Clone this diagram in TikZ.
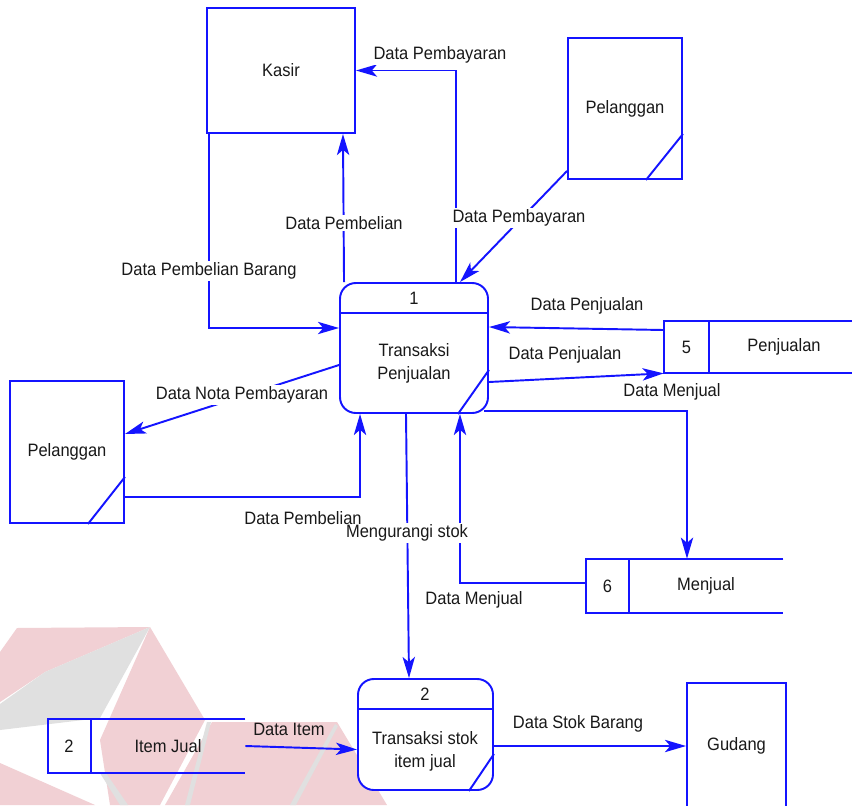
\documentclass[tikz,border=0pt]{standalone}
\usepackage{fontspec}
\setmainfont{Liberation Sans}[FakeStretch=0.92]
\usetikzlibrary{arrows.meta,calc}
\newdimen\pxu \pxu=0.02cm
\definecolor{flow}{RGB}{20,20,255}
\definecolor{ink}{RGB}{25,25,25}
\definecolor{wmred}{RGB}{241,208,212}
\definecolor{wmgrey}{RGB}{224,224,224}

\begin{document}
\begin{tikzpicture}[x=1\pxu,y=-1\pxu,
  font=\fontsize{10.2}{13}\selectfont, text=ink,
  ent/.style={draw=flow, line width=1.1pt, rectangle, inner sep=0pt},
  proc/.style={draw=flow, fill=white, line width=1.1pt, rounded corners=9pt, inner sep=0pt},
  storebox/.style={rectangle, inner sep=0pt},
  boxline/.style={draw=flow, line width=1.1pt},
  flowline/.style={draw=flow, line width=1.1pt, -{Stealth[length=12pt,width=7pt,inset=3pt]}},
  flowlabel/.style={fill=white, inner sep=1pt},
  caption/.style={align=center, inner sep=0pt}]

% page frame
\clip (0,0) rectangle (852,805);
\fill[white] (0,0) rectangle (852,805);

% faint logo in the background
\fill[wmred]  (17,628) -- (150,627) -- (45,672) -- (0,702) -- (0,652) -- cycle;
\fill[wmgrey] (150,627) -- (45,672) -- (0,704) -- (0,730) -- (100,718) -- cycle;
\fill[wmred]  (150,627) -- (205,720) -- (160,805) -- (110,805) -- (100,740) -- cycle;
\fill[wmred]  (0,763) -- (95,805) -- (0,805) -- cycle;
\fill[wmred]  (212,722) -- (337,722) -- (387,805) -- (165,805) -- cycle;
\fill[wmgrey] (100,773) -- (106,773) -- (128,805) -- (120,805) -- cycle;
\fill[wmgrey] (207,722) -- (211,722) -- (190,805) -- (185,805) -- cycle;
\fill[wmgrey] (335,724) -- (338,726) -- (296,805) -- (290,805) -- cycle;

% external entities
\node[ent, minimum width=148\pxu, minimum height=125\pxu] (kasir) at (281,70.5) {Kasir};
\node[ent, minimum width=114\pxu, minimum height=141\pxu] (pelT) at (625,108.5) {Pelanggan};
\draw[boxline] ($(pelT.south east)+(0,-46)$) -- ($(pelT.south east)+(-37,0)$);
\node[ent, minimum width=114\pxu, minimum height=142\pxu] (pelL) at (67,452) {Pelanggan};
\draw[boxline] ($(pelL.south east)+(0,-47)$) -- ($(pelL.south east)+(-37,0)$);
\node[ent, minimum width=99\pxu, minimum height=126\pxu] (gudang) at (736.5,746) {Gudang};

% process 1
\node[proc, minimum width=148\pxu, minimum height=130\pxu] (p1) at (414,348) {};
\draw[boxline] (p1.north west) ++(0,31) -- ++(148,0);
\draw[boxline] ($(p1.south east)+(0,-44)$) -- ($(p1.south east)+(-31,0)$);
\node[caption] (p1id) at (414,298) {1};
\node[caption] (p1txt) at (414,363) {Transaksi\\Penjualan};

% process 2
\node[proc, minimum width=135\pxu, minimum height=111\pxu] (p2) at (425.5,734.5) {};
\draw[boxline] (p2.north west) ++(0,31) -- ++(135,0);
\draw[boxline] ($(p2.south east)+(0,-37)$) -- ($(p2.south east)+(-25,0)$);
\node[caption] (p2id) at (425,694) {2};
\node[caption] (p2txt) at (425,751) {Transaksi stok\\item jual};

% data stores
\node[storebox, minimum width=188\pxu, minimum height=52\pxu] (s5) at (758,347) {};
\draw[boxline] (s5.north east) -- (s5.north west) -- (s5.south west) -- (s5.south east);
\draw[boxline] ($(s5.north west)+(45,0)$) -- ($(s5.south west)+(45,0)$);
\node[caption] (s5id) at (686.5,347) {5};
\node[caption] (s5txt) at (784,347) {Penjualan};

\node[storebox, minimum width=197\pxu, minimum height=54\pxu] (s6) at (684.5,586) {};
\draw[boxline] (s6.north east) -- (s6.north west) -- (s6.south west) -- (s6.south east);
\draw[boxline] ($(s6.north west)+(43,0)$) -- ($(s6.south west)+(43,0)$);
\node[caption] (s6id) at (607.5,586) {6};
\node[caption] (s6txt) at (706,586) {Menjual};

\node[storebox, minimum width=197\pxu, minimum height=54\pxu] (s2) at (146.5,746) {};
\draw[boxline] (s2.north east) -- (s2.north west) -- (s2.south west) -- (s2.south east);
\draw[boxline] ($(s2.north west)+(43,0)$) -- ($(s2.south west)+(43,0)$);
\node[caption] (s2id) at (69,746) {2};
\node[caption] (s2txt) at (168,746) {Item Jual};

% data flows
\draw[flowline] ($(kasir.south west)+(3,0)$) |- ($(p1.west)+(0,-20)$);
\draw[flowline] ($(p1.north west)+(5,0)$) -- ($(kasir.south east)+(-13,0)$);
\draw[flowline] ($(p1.north)+(42,0)$) |- (kasir.east);
\draw[flowline] ($(pelT.south west)+(0,-9)$) -- ($(p1.north)+(46,0)$);
\draw[flowline] ($(s5.west)+(0,-17)$) -- ($(p1.east)+(0,-21)$);
\draw[flowline] ($(p1.east)+(0,34)$) -- (s5.south west);
\draw[flowline] ($(p1.south east)+(-5,-3)$) -| ($(s6.north)+(2.5,0)$);
\draw[flowline] ($(s6.west)+(0,-3)$) -| ($(p1.south)+(46,0)$);
\draw[flowline] ($(pelL.east)+(0,45)$) -| ($(p1.south west)+(21,0)$);
\draw[flowline] ($(p1.west)+(0,17)$) -- ($(pelL.east)+(0,-18)$);
\draw[flowline] ($(p1.south)+(-8,0)$) -- ($(p2.north)+(-16.5,0)$);
\draw[flowline] (s2.east) -- ($(p2.west)+(0,15)$);
\draw[flowline] (p2.east |- gudang.west) -- (gudang.west);

% flow labels
\node[flowlabel] (lbl1) at (209,271) {Data Pembelian Barang};
\node[flowlabel] (lbl2) at (344,223) {Data Pembelian};
\node[flowlabel] (lbl3) at (440,55) {Data Pembayaran};
\node[flowlabel] (lbl4) at (519,218) {Data Pembayaran};
\node[flowlabel] (lbl5) at (587,306) {Data Penjualan};
\node[flowlabel] (lbl6) at (565,355) {Data Penjualan};
\node[flowlabel] (lbl7) at (672,392) {Data Menjual};
\node[flowlabel] (lbl8) at (474,600) {Data Menjual};
\node[flowlabel] (lbl10) at (242,395) {Data Nota Pembayaran};
\node[flowlabel] (lbl11) at (407,533) {Mengurangi stok};
\node[inner sep=0pt] (lbl9) at (303,518) {Data Pembelian};
\node[inner sep=0pt] (lbl12) at (289,729) {Data Item};
\node[inner sep=0pt] (lbl13) at (578,724) {Data Stok Barang};
\end{tikzpicture}
\end{document}
